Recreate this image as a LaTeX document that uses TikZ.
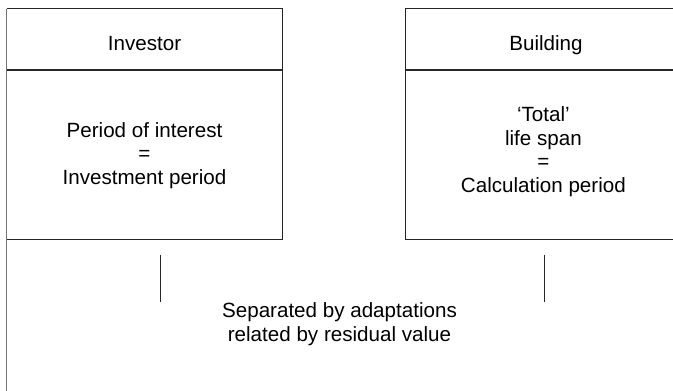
\documentclass[tikz,border=0pt]{standalone}
\usepackage{fontspec}
\setmainfont{Liberation Sans}
\begin{document}
\begin{tikzpicture}[x=1pt,y=-1pt,
  frame/.style={draw=black!85,line width=1.1pt},
  edge/.style={draw=black!55,line width=0.7pt},
  tick/.style={draw=black!85,line width=1pt},
  label/.style={inner sep=0pt,anchor=base,align=center,
    font=\fontsize{20.6}{23.8}\selectfont}]
\useasboundingbox (0,0) rectangle (673,391);
\clip (0,0) rectangle (673,391);

% left box: investor
\coordinate (invTL) at (6.5,8.5);
\coordinate (invBR) at (282.5,239.5);
\draw[frame] (invTL) -- (282.5,8.5) -- (invBR) -- (6.5,239.5);
\draw[frame] (6.5,70) -- (282.5,70);
\coordinate (invEnd) at (6.5,391);
\draw[edge] (invTL) -- (invEnd);
\node[label] (invHead) at (144.5,50) {Investor};
% multi-line labels sit on the baseline of their last line
\node[label] (invBody) at (144.5,184.7) {Period of interest\\=\\Investment period};

% right box: building (runs past the right edge)
\coordinate (bldTL) at (405.7,8.5);
\coordinate (bldBR) at (690,239.5);
\draw[frame] (690,8.5) -- (bldTL) -- (405.7,239.5) -- (bldBR);
\draw[frame] (405.7,70) -- (690,70);
\node[label] (bldHead) at (546,50) {Building};
\node[label] (bldBody) at (543.4,192.7) {`Total'\\life span\\=\\Calculation period};

% link marks and their caption
\coordinate (tickLa) at (160,255);
\coordinate (tickLb) at (160,302);
\coordinate (tickRa) at (544,255);
\coordinate (tickRb) at (544,302);
\draw[tick] (tickLa) -- (tickLb);
\draw[tick] (tickRa) -- (tickRb);
\node[label] (link) at (339.5,341.7) {Separated by adaptations\\related by residual value};
\end{tikzpicture}
\end{document}
